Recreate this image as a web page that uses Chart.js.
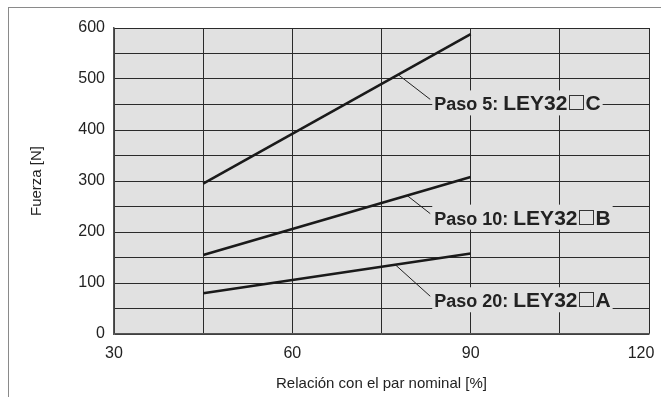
<!DOCTYPE html>
<html>
<head>
<meta charset="utf-8">
<script src="https://cdn.jsdelivr.net/npm/chart.js@4"></script>
<style>
  html, body { margin: 0; padding: 0; background: #fff; }
  #wrap { position: relative; width: 661px; height: 397px; }
  #frame { position: absolute; left: 8px; top: 7px; right: 0; bottom: 0; border-top: 1.5px solid #8a8a8a; border-left: 1.5px solid #8a8a8a; }
  canvas { position: absolute; left: 0; top: 0; }
</style>
</head>
<body>
<div id="wrap">
  <div id="frame"></div>
  <canvas id="chart" width="661" height="397"></canvas>
</div>
<script>
// Relación con el par nominal [%]
const ratio = [45, 90];
// Fuerza [N] per paso
const fuerzaPaso5 = [295, 588];
const fuerzaPaso10 = [155, 308];
const fuerzaPaso20 = [80, 158];

const seriesNames = ['Paso 5: ', 'Paso 10: ', 'Paso 20: '];
const seriesModels = ['LEY32', 'LEY32', 'LEY32'];
const seriesSuffix = ['C', 'B', 'A'];

// leader line: start x on the curve, end point of the leader (data units)
const leaderStartX = [77.8, 79.3, 77.3];
const leaderEnd = [[83.2, 460], [83.2, 236], [83.2, 74]];

const plotBg = '#e1e1e1';
const font = "'Liberation Sans', Arial, sans-serif";

function toPoints(ys) { return ratio.map((x, i) => ({ x, y: ys[i] })); }
function lerpY(ys, x) { return ys[0] + (ys[1] - ys[0]) * (x - ratio[0]) / (ratio[1] - ratio[0]); }

const plotBgPlugin = {
  id: 'plotBg',
  beforeDraw(chart) {
    const { ctx, chartArea: a } = chart;
    ctx.save();
    ctx.fillStyle = plotBg;
    ctx.fillRect(a.left, a.top, a.right - a.left, a.bottom - a.top);
    ctx.restore();
  }
};

const labelPlugin = {
  id: 'curveLabels',
  afterDatasetsDraw(chart) {
    const { ctx, scales: { x, y } } = chart;
    const allY = [fuerzaPaso5, fuerzaPaso10, fuerzaPaso20];
    ctx.save();
    allY.forEach((ys, i) => {
      const sx = x.getPixelForValue(leaderStartX[i]);
      const sy = y.getPixelForValue(lerpY(ys, leaderStartX[i]));
      const ex = x.getPixelForValue(leaderEnd[i][0]);
      const ey = y.getPixelForValue(leaderEnd[i][1]);
      ctx.strokeStyle = '#222';
      ctx.lineWidth = 1;
      ctx.beginPath();
      ctx.moveTo(sx, sy);
      ctx.lineTo(ex, ey);
      ctx.stroke();

      const f1 = "bold 18px " + font;
      const f2 = "bold 21px " + font;
      ctx.font = f1;
      const w1 = ctx.measureText(seriesNames[i]).width;
      ctx.font = f2;
      const w2 = ctx.measureText(seriesModels[i]).width;
      const w3 = ctx.measureText(seriesSuffix[i]).width;
      const box = 14;
      const tx = ex + 4;
      const total = w1 + w2 + box + 4 + w3;
      const base = ey + 11;
      ctx.fillStyle = plotBg;
      ctx.fillRect(tx - 2, base - 20, total + 4, 25);
      ctx.fillStyle = '#222';
      ctx.textBaseline = 'alphabetic';
      ctx.font = f1;
      ctx.fillText(seriesNames[i], tx, base);
      ctx.font = f2;
      ctx.fillText(seriesModels[i], tx + w1, base);
      ctx.strokeStyle = '#333';
      ctx.lineWidth = 1;
      ctx.strokeRect(Math.round(tx + w1 + w2 + 2) + 0.5, Math.round(base - box - 1) + 0.5, box, box);
      ctx.fillText(seriesSuffix[i], tx + w1 + w2 + box + 4, base);
    });
    ctx.restore();
  }
};

const lineStyle = { borderColor: '#1a1a1a', borderWidth: 2.6, pointRadius: 0, showLine: true, fill: false, tension: 0 };

new Chart(document.getElementById('chart'), {
  type: 'scatter',
  data: {
    datasets: [
      { label: 'Paso 5', data: toPoints(fuerzaPaso5), ...lineStyle },
      { label: 'Paso 10', data: toPoints(fuerzaPaso10), ...lineStyle },
      { label: 'Paso 20', data: toPoints(fuerzaPaso20), ...lineStyle }
    ]
  },
  options: {
    responsive: false,
    animation: false,
    layout: { padding: { left: 0, right: 0, top: 28, bottom: 0 } },
    plugins: { legend: { display: false }, tooltip: { enabled: false } },
    scales: {
      x: {
        type: 'linear', min: 30, max: 120,
        afterFit(s) { s.height = 63; s.paddingRight = 12; s.paddingLeft = 0; },
        ticks: { stepSize: 15, autoSkip: false, padding: 10, color: '#222', font: { family: font, size: 16 },
          // last label nudged left so it stays inside the canvas
          callback: v => v % 30 !== 0 ? '' : (v === 120 ? '120\u2002\u2002' : v) },
        grid: { color: '#2a2a2a', lineWidth: 1, drawTicks: false },
        border: { color: '#555', width: 1.5 },
        title: { display: true, text: 'Relación con el par nominal [%]', color: '#222',
          font: { family: font, size: 15 }, padding: { top: 0, bottom: 4 } }
      },
      y: {
        min: 0, max: 600,
        afterFit(s) { s.width = 114; },
        ticks: { stepSize: 50, autoSkip: false, padding: 9, color: '#222', font: { family: font, size: 16 },
          callback: v => v % 100 === 0 ? v : '' },
        grid: { color: '#2a2a2a', lineWidth: 1, drawTicks: false },
        border: { color: '#555', width: 1.5 },
        title: { display: true, text: 'Fuerza [N]', color: '#222',
          font: { family: font, size: 15 }, padding: { top: 28, bottom: 0 } }
      }
    }
  },
  plugins: [plotBgPlugin, labelPlugin]
});
</script>
</body>
</html>
